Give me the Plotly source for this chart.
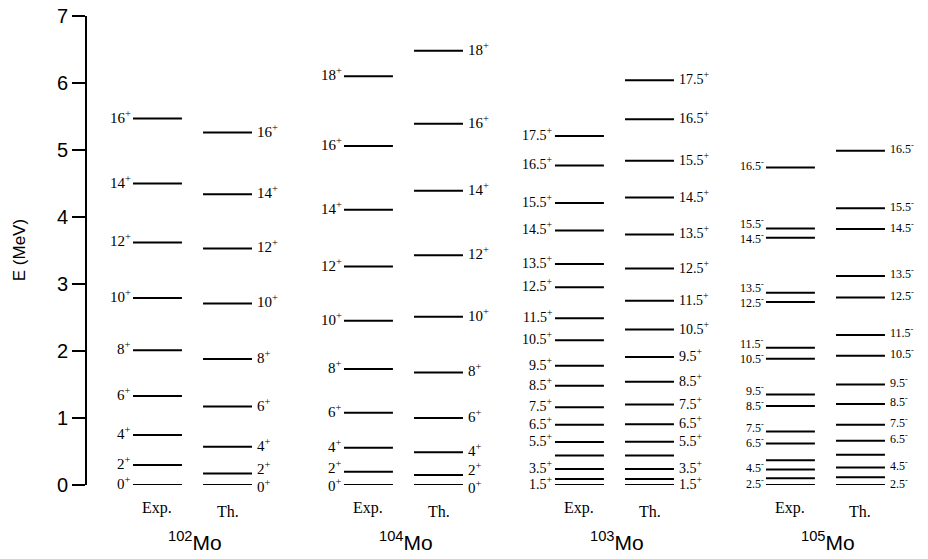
import plotly.graph_objects as go

# ---- data (MeV) ----
nuclei = ["102", "104", "103", "105"]

mo102_exp_E = [0.0, 0.30, 0.746, 1.33, 2.01, 2.79, 3.62, 4.50, 5.47]
mo102_exp_J = ["0+", "2+", "4+", "6+", "8+", "10+", "12+", "14+", "16+"]
mo102_th_E = [0.0, 0.17, 0.57, 1.17, 1.88, 2.71, 3.53, 4.34, 5.26]
mo102_th_J = ["0+", "2+", "4+", "6+", "8+", "10+", "12+", "14+", "16+"]

mo104_exp_E = [0.0, 0.199, 0.557, 1.08, 1.73, 2.45, 3.26, 4.11, 5.06, 6.10]
mo104_exp_J = ["0+", "2+", "4+", "6+", "8+", "10+", "12+", "14+", "16+", "18+"]
mo104_th_E = [0.0, 0.15, 0.49, 1.00, 1.68, 2.51, 3.43, 4.39, 5.39, 6.48]
mo104_th_J = ["0+", "2+", "4+", "6+", "8+", "10+", "12+", "14+", "16+", "18+"]

mo103_exp_E = [0.0, 0.09, 0.24, 0.44, 0.64, 0.90, 1.16, 1.48, 1.78, 2.16, 2.49,
               2.95, 3.30, 3.80, 4.21, 4.77, 5.21]
mo103_exp_J = ["1.5+", "", "3.5+", "", "5.5+", "6.5+", "7.5+", "8.5+", "9.5+", "10.5+",
               "11.5+", "12.5+", "13.5+", "14.5+", "15.5+", "16.5+", "17.5+"]
mo103_th_E = [0.0, 0.09, 0.24, 0.44, 0.646, 0.906, 1.20, 1.54, 1.91, 2.32, 2.75,
              3.23, 3.74, 4.29, 4.84, 5.46, 6.04]
mo103_th_J = ["1.5+", "", "3.5+", "", "5.5+", "6.5+", "7.5+", "8.5+", "9.5+", "10.5+",
              "11.5+", "12.5+", "13.5+", "14.5+", "15.5+", "16.5+", "17.5+"]

mo105_exp_E = [0.0, 0.10, 0.23, 0.37, 0.62, 0.80, 1.18, 1.35, 1.885, 2.05,
               2.73, 2.87, 3.69, 3.83, 4.74]
mo105_exp_J = ["2.5-", "", "4.5-", "", "6.5-", "7.5-", "8.5-", "9.5-", "10.5-", "11.5-",
               "12.5-", "13.5-", "14.5-", "15.5-", "16.5-"]
mo105_th_E = [0.0, 0.115, 0.26, 0.45, 0.66, 0.90, 1.21, 1.50, 1.93, 2.24,
              2.80, 3.12, 3.82, 4.13, 4.99]
mo105_th_J = ["2.5-", "", "4.5-", "", "6.5-", "7.5-", "8.5-", "9.5-", "10.5-", "11.5-",
              "12.5-", "13.5-", "14.5-", "15.5-", "16.5-"]

y_ticks = [0, 1, 2, 3, 4, 5, 6, 7]

groups = [
    (mo102_exp_E, mo102_exp_J, mo102_th_E, mo102_th_J),
    (mo104_exp_E, mo104_exp_J, mo104_th_E, mo104_th_J),
    (mo103_exp_E, mo103_exp_J, mo103_th_E, mo103_th_J),
    (mo105_exp_E, mo105_exp_J, mo105_th_E, mo105_th_J),
]

# ---- layout constants ----
OFF = 0.166    # exp/th offset from group centre (x units)
HW = 0.116     # half width of a level line
label_sizes = [15, 15, 14, 12]
need_fac = [1.2, 1.2, 0.95, 1.25]
PX_PER_MEV = 67.0

def jlabel(j):
    return j[:-1] + "<sup>" + j[-1] + "</sup>"

fig = go.Figure()
ann = []
serif = "Liberation Serif, Times New Roman, serif"
sans = "Liberation Sans, Arial, Helvetica, sans-serif"

for gi, (eE, eJ, tE, tJ) in enumerate(groups):
    fs = label_sizes[gi]
    for side, E, J in ((-1, eE, eJ), (1, tE, tJ)):
        c = gi + side * OFF
        xs, ys = [], []
        for e in E:
            xs += [c - HW, c + HW, None]
            ys += [e, e, None]
        fig.add_trace(go.Scatter(x=xs, y=ys, mode="lines",
                                 line=dict(color="black", width=2),
                                 hoverinfo="skip", showlegend=False))
        labelled = [(e, j) for e, j in zip(E, J) if j]
        need = fs * need_fac[gi]
        for k, (e, j) in enumerate(labelled):
            shift = 2.0
            if k + 1 < len(labelled):
                gap = (labelled[k + 1][0] - e) * PX_PER_MEV
                if gap < need:
                    shift -= (need - gap) / 2
            if k > 0:
                gap = (e - labelled[k - 1][0]) * PX_PER_MEV
                if gap < need:
                    shift += (need - gap) / 2
            ann.append(dict(
                x=c - HW if side < 0 else c + HW, y=e, xref="x", yref="y",
                text=jlabel(j), showarrow=False,
                xanchor="right" if side < 0 else "left", yanchor="middle",
                xshift=0 if side < 0 else 3, yshift=shift,
                font=dict(family=serif, size=fs, color="black")))
    ann.append(dict(x=gi - OFF, y=-0.050, xref="x", yref="paper", text="Exp.",
                    showarrow=False, xanchor="center", yanchor="middle",
                    font=dict(family=serif, size=16, color="black")))
    ann.append(dict(x=gi + OFF, y=-0.056, xref="x", yref="paper", text="Th.",
                    showarrow=False, xanchor="center", yanchor="middle",
                    font=dict(family=serif, size=16, color="black")))
    ann.append(dict(x=gi + 0.01, y=-0.120, xref="x", yref="paper",
                    text="<sup>" + nuclei[gi] + "</sup>Mo",
                    showarrow=False, xanchor="center", yanchor="middle",
                    font=dict(family=sans, size=21, color="black")))

ann.append(dict(x=-0.080, y=0.5, xref="paper", yref="paper", text="E (MeV)",
                textangle=-90, showarrow=False, xanchor="center", yanchor="middle",
                font=dict(family=sans, size=17, color="black")))

fig.update_layout(
    width=928, height=559,
    margin=dict(l=87, r=0, t=16, b=74),
    plot_bgcolor="white", paper_bgcolor="white",
    annotations=ann,
    xaxis=dict(range=[-0.5, 3.486], visible=False, fixedrange=True),
    yaxis=dict(range=[0, 7], tickvals=y_ticks, ticktext=[str(v) for v in y_ticks],
               ticks="outside", ticklen=13, tickwidth=2, tickcolor="black",
               showline=True, linewidth=2, linecolor="black", showgrid=False,
               zeroline=False, tickfont=dict(family=sans, size=20, color="black"),
               fixedrange=True),
)

fig.write_html("out.html", config={"displayModeBar": False},
               post_script="document.body.style.margin='0';document.body.style.overflow='hidden';")
